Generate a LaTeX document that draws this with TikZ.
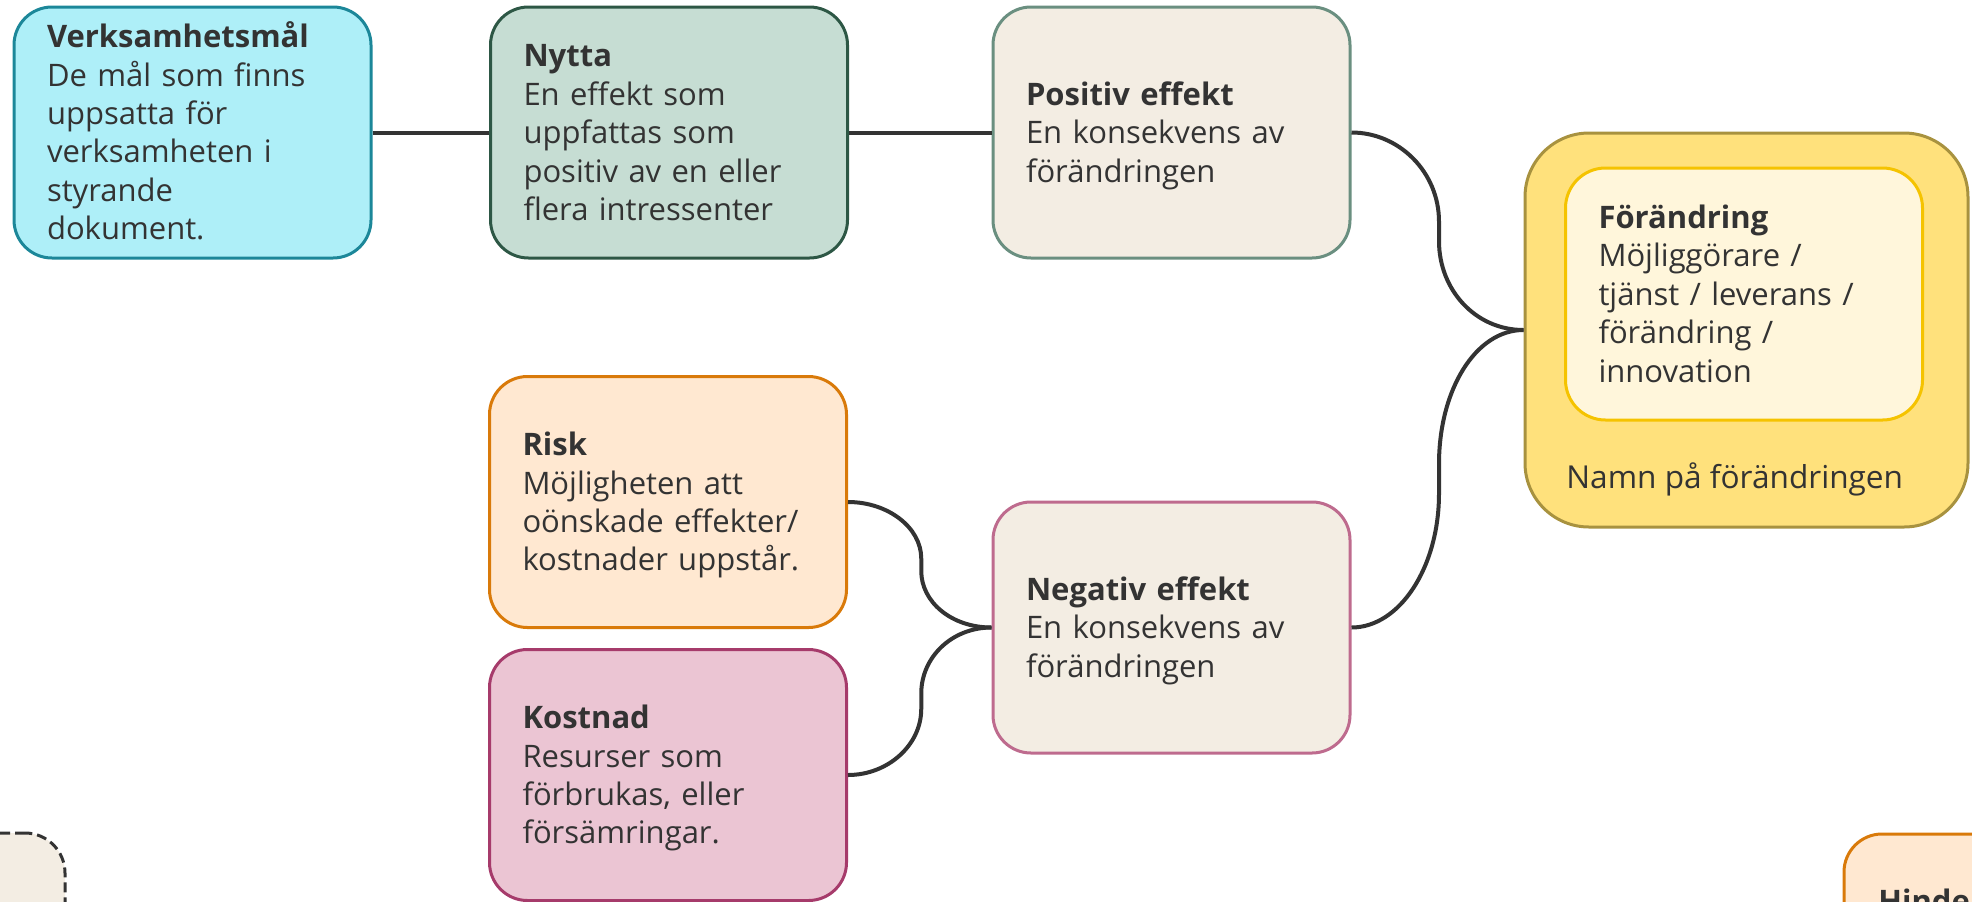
\documentclass[tikz,border=0pt]{standalone}
\usepackage{fontspec}
\setmainfont{Open Sans}
\definecolor{ink}{HTML}{333333}
\definecolor{verkfill}{HTML}{AEEFF8}
\definecolor{verkline}{HTML}{1C8799}
\definecolor{nyttafill}{HTML}{C6DDD3}
\definecolor{nyttaline}{HTML}{2D5745}
\definecolor{effill}{HTML}{F3EDE3}
\definecolor{posline}{HTML}{6A8F80}
\definecolor{negline}{HTML}{BE6B8E}
\definecolor{riskfill}{HTML}{FFE8D1}
\definecolor{riskline}{HTML}{D97A0A}
\definecolor{kostfill}{HTML}{EBC5D3}
\definecolor{kostline}{HTML}{A63B6B}
\definecolor{outfill}{HTML}{FFE17C}
\definecolor{outline}{HTML}{A8923F}
\definecolor{infill}{HTML}{FFF6DB}
\definecolor{inline}{HTML}{F5C300}
\newcommand\Ls{\rule[-4pt]{0pt}{19.2pt}}
\begin{document}
\begin{tikzpicture}[x=0.5pt,y=-0.5pt,
  card/.style={draw, line width=1.5pt, rounded corners=19pt, text width=145.5pt,
    inner xsep=16.5pt, inner ysep=0pt, minimum height=125.5pt, align=left,
    text=ink, font=\fontsize{15.5pt}{19.2pt}\selectfont},
  plain/.style={inner sep=0pt, text=ink, font=\fontsize{15.5pt}{19.2pt}\selectfont},
  conn/.style={draw=ink, line width=2pt}]
\useasboundingbox (0,0) rectangle (1972,901);
\clip (0,0) rectangle (1972,901);

% top row
\node[card, fill=verkfill, draw=verkline] (verk) at (192.5,132.5)
  {\textbf{Verksamhetsmål}\Ls\\De mål som finns\Ls\\uppsatta för\Ls\\verksamheten i\Ls\\styrande\Ls\\dokument.\Ls};
\node[card, fill=nyttafill, draw=nyttaline] (nytta) at (669,132.5)
  {\textbf{Nytta}\Ls\\En effekt som\Ls\\uppfattas som\Ls\\positiv av en eller\Ls\\flera intressenter\Ls};
\node[card, fill=effill, draw=posline] (pos) at (1171.5,132.5)
  {\textbf{Positiv effekt}\Ls\\En konsekvens av\Ls\\förändringen\Ls};

% change container
\node[draw=outline, fill=outfill, line width=1.5pt, rounded corners=32pt,
  minimum width=221.5pt, minimum height=197pt, inner sep=0pt] (fo) at (1746.5,330) {};
\node[card, fill=infill, draw=inline, rounded corners=20pt, minimum height=126pt] (inner) at (1744,294)
  {\textbf{Förändring}\Ls\\Möjliggörare /\Ls\\tjänst / leverans /\Ls\\förändring /\Ls\\innovation\Ls};
\node[plain, anchor=base west, font=\fontsize{15.8pt}{19.2pt}\selectfont] (namn) at (1566,488) {Namn på förändringen};

% lower part
\node[card, fill=riskfill, draw=riskline] (risk) at (668,502)
  {\textbf{Risk}\Ls\\Möjligheten att\Ls\\oönskade effekter/\Ls\\kostnader uppstår.\Ls};
\node[card, fill=kostfill, draw=kostline] (kost) at (668,775)
  {\textbf{Kostnad}\Ls\\Resurser som\Ls\\förbrukas, eller\Ls\\försämringar.\Ls};
\node[card, fill=effill, draw=negline] (neg) at (1171.5,627.5)
  {\textbf{Negativ effekt}\Ls\\En konsekvens av\Ls\\förändringen\Ls};

% partly visible boxes
\node[card, fill=effill, draw=ink, dash pattern=on 5pt off 2.5pt, rounded corners=20pt] (extra) at (-113.5,958.5) {};
\node[card, fill=riskfill, draw=riskline] (hinder) at (2022.5,959.5) {};
\node[plain, anchor=base west] (hindertext) at (1878,912) {\textbf{Hinder}};

% connectors
\draw[conn] (verk.east) -- (nytta.west);
\draw[conn] (nytta.east) -- (pos.west);
\draw[conn] (pos.east) .. controls +(48,0) and +(0,-49) .. ++(87.5,89) -- ++(0,19.5)
  .. controls +(0,49) and +(-48,0) .. (fo.west);
\draw[conn] (neg.east) .. controls +(48,0) and +(0,74) .. ++(87.5,-134) -- ++(0,-29.5)
  .. controls +(0,-74) and +(-48,0) .. (fo.west);
\draw[conn] (risk.east) .. controls +(40,0) and +(0,-31) .. ++(73.25,56.5) -- ++(0,12.5)
  .. controls +(0,31) and +(-40,0) .. (neg.west);
\draw[conn] (kost.east) .. controls +(40,0) and +(0,36) .. ++(73.25,-66) -- ++(0,-15.5)
  .. controls +(0,-36) and +(-40,0) .. (neg.west);
\end{tikzpicture}
\end{document}
